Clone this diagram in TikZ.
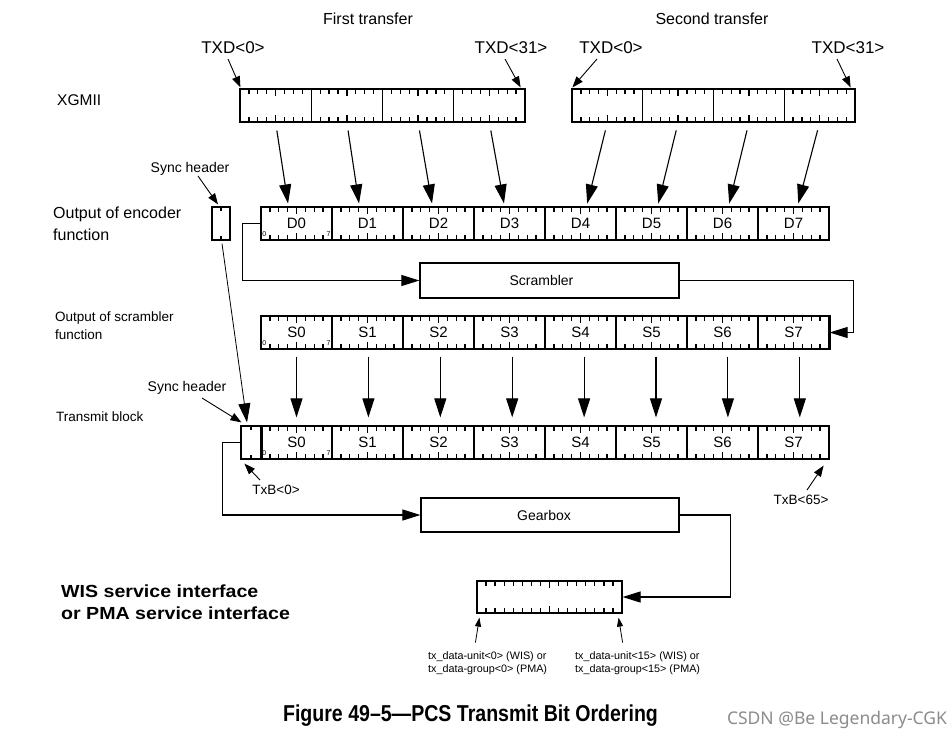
\documentclass[tikz,border=0pt]{standalone}
\usepackage{fontspec}
\setmainfont{Liberation Sans}
\newfontfamily\capfont[FakeStretch=0.85]{Liberation Sans}
\newfontfamily\widefont[FakeStretch=1.12]{Liberation Sans}
\newfontfamily\wmfont{Noto Sans}
\usetikzlibrary{arrows.meta,calc}
\newcommand\fs[1]{\fontsize{#1}{#1}\selectfont}
\tikzset{
 reg/.style={draw,line width=1.2pt,inner sep=0,minimum height=33pt},
 dbyte/.style={reg,minimum width=71pt,font=\fs{15}},
 xbyte/.style={reg,minimum width=71.25pt},
 ybyte/.style={reg,minimum width=70.75pt},
 tk/.style={draw=black,line width=1.3pt},
 lbl/.style={inner sep=0},
 bitno/.style={inner sep=0,font=\fs{7}},
 ptr/.style={line width=0.9pt,-{Triangle[length=11pt,width=8pt]}},
 sptr/.style={line width=0.8pt,-{Triangle[length=9pt,width=6pt]}},
 bigarr/.style={line width=1.1pt,-{Triangle[length=19pt,width=12pt]}},
 conn/.style={line width=1.1pt,-{Triangle[length=18pt,width=11pt]}},
 func/.style={draw,line width=1.2pt,inner sep=0,minimum width=259pt,minimum height=35pt,font=\fs{14}}
}
\begin{document}
\begin{tikzpicture}[x=1pt,y=-1pt]
\fill[white] (0,0) rectangle (949,736);
\useasboundingbox (0,0) rectangle (949,736);

% titles
\node[lbl,font=\fs{16}] (ft) at (368,19) {First transfer};
\node[lbl,font=\fs{16}] (st) at (712,19) {Second transfer};
\node[lbl,font=\fs{17}] (t0a) at (233,48) {TXD<0>};
\node[lbl,font=\fs{17}] (t31a) at (511,48) {TXD<31>};
\node[lbl,font=\fs{17}] (t0b) at (611,48) {TXD<0>};
\node[lbl,font=\fs{17}] (t31b) at (848,48) {TXD<31>};

% left labels
\node[lbl,anchor=west,font=\fs{15.5}] (xg) at (57,100) {XGMII};
\node[lbl,anchor=west,align=left,font=\fontsize{16}{22}\selectfont] (enclbl) at (53,224) {Output of encoder\\function};
\node[lbl,anchor=west,align=left,font=\fontsize{13.5}{18}\selectfont] (scrlbl) at (55,326) {Output of scrambler\\function};
\node[lbl,anchor=west,font=\fs{13.5}] (txblk) at (56,417) {Transmit block};
\node[lbl,anchor=west,align=left,font=\widefont\bfseries\fontsize{17.5}{22}\selectfont] (wis) at (61,602) {WIS service interface\\or PMA service interface};

% XGMII registers
\foreach \i in {0,...,3}{
  \node[xbyte] (X\i) at ({240+71.25*(\i+0.5)},105.5) {};
  \node[ybyte] (Y\i) at ({572+70.75*(\i+0.5)},105.5) {};
}
\foreach \k in {1,...,31}{
  \pgfmathtruncatemacro\mk{mod(\k,8)}
  \pgfmathsetmacro\tlen{\mk==4 ? 7 : 5}
  \ifnum\mk=0\relax\else
  \draw[tk] ({240+\k*8.906},89) -- ({240+\k*8.906},89+\tlen);
  \draw[tk] ({240+\k*8.906},122) -- ({240+\k*8.906},122-\tlen);
  \draw[tk] ({572+\k*8.844},89) -- ({572+\k*8.844},89+\tlen);
  \draw[tk] ({572+\k*8.844},122) -- ({572+\k*8.844},122-\tlen);
  \fi
}
\draw[ptr] ($(t0a.center)+(-5,11)$) -- ($(X0.north west)+(1,-1)$);
\draw[ptr] ($(t31a.center)+(-6,11)$) -- ($(X3.north east)+(-5,-1)$);
\draw[ptr] ($(t0b.center)+(-14,11)$) -- ($(Y0.north west)+(1,-1)$);
\draw[ptr] ($(t31b.center)+(-11,11)$) -- ($(Y3.north east)+(-5,-1)$);

% encoder, scrambler-output and transmit rows
\foreach \i in {0,...,7}{
  \node[dbyte] (D\i) at ({296.5+71*\i},223.5) {D\i};
  \node[dbyte] (S\i) at ({296.5+71*\i},332.5) {S\i};
  \node[dbyte] (T\i) at ({296.5+71*\i},442.5) {S\i};
}
\foreach \k in {1,...,63}{
  \pgfmathtruncatemacro\mk{mod(\k,8)}
  \pgfmathsetmacro\tlen{\mk==4 ? 7 : 5}
  \pgfmathsetmacro\tx{261+\k*8.875}
  \ifnum\mk=0\relax\else
  \foreach \yt/\yb in {207/240,316/349,426/459}{
    \draw[tk] (\tx,\yt) -- (\tx,\yt+\tlen);
    \draw[tk] (\tx,\yb) -- (\tx,\yb-\tlen);
  }
  \fi
}
\foreach \r in {D,S,T}{
  \node[bitno] (\r n0) at ($(\r0.south west)+(4,-7)$) {0};
  \node[bitno] (\r n7) at ($(\r0.south east)+(-4,-7)$) {7};
}

% sync header boxes
\node[reg,minimum width=18pt] (sh1) at (221,223.5) {};
\draw[tk] (sh1.north) -- ++(0,5);
\draw[tk] (sh1.south) -- ++(0,-5);
\node[lbl,font=\fs{14}] (sync1) at (190,169) {Sync header};
\draw[ptr] ($(sync1.center)+(8,7)$) -- ($(sh1.north)+(-3,-2)$);

\node[reg,minimum width=20pt] (sh2) at (251,442.5) {};
\draw[tk] (sh2.north) -- ++(0,5);
\draw[tk] (sh2.south) -- ++(0,-5);
\draw[line width=2.2pt] (sh2.north east) -- (sh2.south east);

% XGMII -> encoder arrows
\foreach \i/\o in {0/-8,1/-8,2/-6,3/-5}{
  \draw[bigarr,shorten <=8pt,shorten >=3pt] (X\i.south) -- ($(D\i.north)+(\o,0)$);
}
\foreach \i/\j/\o in {0/4/6,1/5/6,2/6/6,3/7/4}{
  \draw[bigarr,shorten <=8pt,shorten >=3pt] (Y\i.south) -- ($(D\j.north)+(\o,0)$);
}

% scrambler
\node[func] (scr) at (549.5,280.5) {\kern-16pt Scrambler};
\draw[conn] (D0.west) -- ++(-18,0) |- (scr.west);
\draw[line width=2.2pt] (S7.north east) -- (S7.south east);
\draw[conn] (scr.east) -- ++(174,0) |- (S7.east);

\foreach \i in {0,...,7}{
  \draw[bigarr,shorten <=7pt,shorten >=8pt] ($(S\i.south)+(0.9*\i,0)$) -- ($(T\i.north)+(0.9*\i,0)$);
}

% sync header path
\draw[line width=0.8pt,-{Triangle[length=19pt,width=12pt]}] ($(sh1.south)+(1,3)$) -- ($(sh2.north)+(-4,-3)$);
\node[lbl,font=\fs{14}] (sync2) at (187,388) {Sync header};
\draw[ptr] ($(sync2.center)+(15,10)$) -- ($(sh2.north west)+(1,-3)$);

\node[lbl,font=\fs{13.5}] (txb0) at (276,490) {TxB<0>};
\draw[ptr] ($(txb0.center)+(-16,-10)$) -- ($(sh2.south west)+(4,4)$);
\node[lbl,font=\fs{13.5}] (txb65) at (801,500) {TxB<65>};
\draw[ptr] ($(txb65.center)+(6,-10)$) -- ($(T7.south east)+(-6,6)$);

% gearbox
\node[func,minimum width=258pt,minimum height=34pt] (gear) at (550,515) {\kern-12pt Gearbox};
\draw[conn] (sh2.west) -- ++(-18,0) |- (gear.west);

% output register
\node[reg,minimum width=145pt,minimum height=32pt] (R) at (549.5,597) {};
\foreach \k in {1,...,15}{
  \pgfmathsetmacro\tlen{\k==8 ? 7 : 5}
  \draw[tk] ({477+\k*9.0625},581) -- ({477+\k*9.0625},581+\tlen);
  \draw[tk] ({477+\k*9.0625},613) -- ({477+\k*9.0625},613-\tlen);
}
\draw[conn] (gear.east) -- ++(51,0) |- (R.east);

\node[lbl,anchor=west,align=left,font=\fontsize{10.8}{13}\selectfont] (txl) at (428,663.5) {tx\_data-unit<0> (WIS) or\\tx\_data-group<0> (PMA)};
\node[lbl,anchor=west,align=left,font=\fontsize{10.8}{13}\selectfont] (txr) at (575,663.5) {tx\_data-unit<15> (WIS) or\\tx\_data-group<15> (PMA)};
\draw[sptr] ($(R.south west)+(-1,29)$) -- ($(R.south west)+(3,4)$);
\draw[sptr] ($(R.south east)+(0,29)$) -- ($(R.south east)+(-4,4)$);

% caption
\node[lbl,font=\capfont\bfseries\fs{23}] (cap) at (470.5,716) {Figure 49–5—PCS Transmit Bit Ordering};
\node[lbl,font=\wmfont\fs{17.5},text=black!45] (wm) at (837,720) {CSDN @Be Legendary-CGK};
\end{tikzpicture}
\end{document}
